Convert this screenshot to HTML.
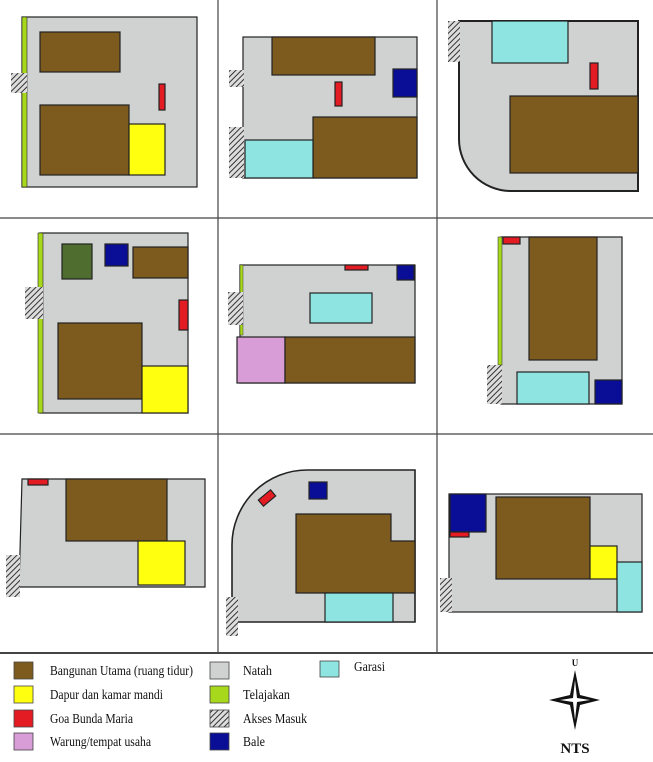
<!DOCTYPE html>
<html><head><meta charset="utf-8"><style>
body{margin:0;background:#fff}
svg{display:block}
text{font-family:"Liberation Serif",serif;fill:#111}
</style></head><body>
<svg width="653" height="762" viewBox="0 0 653 762">
<defs>
<pattern id="hatch" width="4" height="4" patternUnits="userSpaceOnUse" patternTransform="rotate(45)">
<rect width="4" height="4" fill="#ddd"/><line x1="0" y1="0" x2="0" y2="4" stroke="#333" stroke-width="2"/>
</pattern>
</defs>
<g stroke="#444" stroke-width="1.2">
<line x1="218" y1="0" x2="218" y2="653"/><line x1="437" y1="0" x2="437" y2="653"/>
<line x1="0" y1="218" x2="653" y2="218"/><line x1="0" y1="434" x2="653" y2="434"/>
<line x1="0" y1="653" x2="653" y2="653" stroke-width="2"/>
</g>
<g stroke="#222" stroke-width="1.2">
<g>
<rect x="22" y="17" width="175" height="170" fill="#d0d2d2"/>
<rect x="22" y="17" width="5" height="170" fill="#a8d81c" stroke-width="0.6"/>
<rect x="11" y="73" width="16" height="20" fill="url(#hatch)" stroke="none"/>
<rect x="40" y="32" width="80" height="40" fill="#7d5a1e"/>
<rect x="40" y="105" width="89" height="70" fill="#7d5a1e"/>
<rect x="129" y="124" width="36" height="51" fill="#ffff10"/>
<rect x="159" y="84" width="6" height="26" fill="#e31b23"/>
</g>
<g>
<rect x="243" y="37" width="174" height="141" fill="#d0d2d2"/>
<rect x="272" y="37" width="103" height="38" fill="#7d5a1e"/>
<rect x="393" y="69" width="24" height="28" fill="#0a0e96"/>
<rect x="335" y="82" width="7" height="24" fill="#e31b23"/>
<rect x="313" y="117" width="104" height="61" fill="#7d5a1e"/>
<rect x="245" y="140" width="68" height="38" fill="#8ee4e0"/>
<rect x="229" y="70" width="15" height="17" fill="url(#hatch)" stroke="none"/>
<rect x="229" y="127" width="15" height="51" fill="url(#hatch)" stroke="none"/>
</g>
<g>
<path d="M459,21 H638 V191 H510 A52,52 0 0 1 459,139 Z" fill="#d0d2d2" stroke-width="2"/>
<rect x="492" y="21" width="76" height="42" fill="#8ee4e0"/>
<rect x="590" y="63" width="8" height="26" fill="#e31b23"/>
<rect x="510" y="96" width="128" height="77" fill="#7d5a1e"/>
<rect x="448" y="21" width="12" height="41" fill="url(#hatch)" stroke="none"/>
</g>
<g>
<rect x="40" y="233" width="148" height="180" fill="#d0d2d2"/>
<rect x="38" y="233" width="5" height="180" fill="#a8d81c" stroke-width="0.6"/>
<rect x="25" y="287" width="18" height="32" fill="url(#hatch)" stroke="none"/>
<rect x="62" y="244" width="30" height="35" fill="#4f6d2f"/>
<rect x="105" y="244" width="23" height="22" fill="#0a0e96"/>
<rect x="133" y="247" width="55" height="31" fill="#7d5a1e"/>
<rect x="179" y="300" width="9" height="30" fill="#e31b23"/>
<rect x="58" y="323" width="84" height="76" fill="#7d5a1e"/>
<rect x="142" y="366" width="46" height="47" fill="#ffff10"/>
</g>
<g>
<rect x="240" y="265" width="175" height="118" fill="#d0d2d2"/>
<rect x="240" y="265" width="3" height="70" fill="#a8d81c" stroke-width="0.4"/>
<rect x="228" y="292" width="15" height="33" fill="url(#hatch)" stroke="none"/>
<rect x="345" y="265" width="23" height="5" fill="#e31b23"/>
<rect x="397" y="265" width="17" height="15" fill="#0a0e96"/>
<rect x="310" y="293" width="62" height="30" fill="#8ee4e0"/>
<rect x="237" y="337" width="48" height="46" fill="#d89cd6"/>
<rect x="285" y="337" width="130" height="46" fill="#7d5a1e"/>
</g>
<g>
<rect x="501" y="237" width="121" height="167" fill="#d0d2d2"/>
<rect x="498" y="237" width="4" height="128" fill="#a8d81c" stroke-width="0.5"/>
<rect x="487" y="365" width="15" height="39" fill="url(#hatch)" stroke="none"/>
<rect x="503" y="237" width="17" height="7" fill="#e31b23"/>
<rect x="529" y="237" width="68" height="123" fill="#7d5a1e"/>
<rect x="517" y="372" width="72" height="32" fill="#8ee4e0"/>
<rect x="595" y="380" width="27" height="24" fill="#0a0e96"/>
</g>
<g>
<path d="M22,479 H205 V587 H19 Z" fill="#d0d2d2"/>
<rect x="6" y="555" width="14" height="42" fill="url(#hatch)" stroke="none"/>
<rect x="28" y="479" width="20" height="6" fill="#e31b23"/>
<rect x="66" y="479" width="101" height="62" fill="#7d5a1e"/>
<rect x="138" y="541" width="47" height="44" fill="#ffff10"/>
</g>
<g>
<path d="M232,622 V545 A75,75 0 0 1 307,470 H415 V622 Z" fill="#d0d2d2" stroke-width="1.6"/>
<rect x="309" y="482" width="18" height="17" fill="#0a0e96"/>
<rect x="259" y="494" width="16" height="8" fill="#e31b23" transform="rotate(-40 267 498)"/>
<path d="M296,514 H391 V541 H415 V593 H296 Z" fill="#7d5a1e"/>
<rect x="325" y="593" width="68" height="29" fill="#8ee4e0"/>
<rect x="226" y="597" width="12" height="39" fill="url(#hatch)" stroke="none"/>
</g>
<g>
<rect x="449" y="494" width="193" height="118" fill="#d0d2d2"/>
<rect x="450" y="494" width="36" height="38" fill="#0a0e96"/>
<rect x="450" y="532" width="19" height="5" fill="#e31b23"/>
<rect x="496" y="497" width="94" height="82" fill="#7d5a1e"/>
<rect x="590" y="546" width="27" height="33" fill="#ffff10"/>
<rect x="617" y="562" width="25" height="50" fill="#8ee4e0"/>
<rect x="440" y="578" width="12" height="34" fill="url(#hatch)" stroke="none"/>
</g>
</g>
<g font-size="14" stroke="#444" stroke-width="0.8">
<rect x="14" y="662" width="19" height="17" fill="#7d5a1e"/>
<rect x="14" y="686" width="19" height="17" fill="#ffff10"/>
<rect x="14" y="710" width="19" height="17" fill="#e31b23"/>
<rect x="14" y="733" width="19" height="17" fill="#d89cd6"/>
<rect x="210" y="662" width="19" height="17" fill="#d0d2d2"/>
<rect x="210" y="686" width="19" height="17" fill="#a8d81c"/>
<rect x="210" y="710" width="19" height="17" fill="url(#hatch)"/>
<rect x="210" y="733" width="19" height="17" fill="#0a0e96"/>
<rect x="320" y="661" width="19" height="16" fill="#8ee4e0"/>
<g stroke="none">
<text x="50" y="675" textLength="143" lengthAdjust="spacingAndGlyphs">Bangunan Utama (ruang tidur)</text>
<text x="50" y="699" textLength="113" lengthAdjust="spacingAndGlyphs">Dapur dan kamar mandi</text>
<text x="50" y="723" textLength="83" lengthAdjust="spacingAndGlyphs">Goa Bunda Maria</text>
<text x="50" y="746" textLength="101" lengthAdjust="spacingAndGlyphs">Warung/tempat usaha</text>
<text x="243" y="675" textLength="29" lengthAdjust="spacingAndGlyphs">Natah</text>
<text x="243" y="699" textLength="47" lengthAdjust="spacingAndGlyphs">Telajakan</text>
<text x="243" y="723" textLength="64" lengthAdjust="spacingAndGlyphs">Akses Masuk</text>
<text x="243" y="746" textLength="22" lengthAdjust="spacingAndGlyphs">Bale</text>
<text x="354" y="671" textLength="31" lengthAdjust="spacingAndGlyphs">Garasi</text>
</g>
</g>
<g>
<text x="575" y="666" font-size="9" text-anchor="middle" font-weight="bold">U</text>
<path d="M575,670 L580,695 L600,700 L580,705 L575,730 L570,705 L549,700 L570,695 Z" fill="#111"/>
<path d="M575,680 L577,698 L590,700 L577,702 L575,720 L573,702 L560,700 L573,698 Z" fill="#fff"/>
<text x="575" y="753" font-size="15" text-anchor="middle" font-weight="bold">NTS</text>
</g>
</svg>
</body></html>
